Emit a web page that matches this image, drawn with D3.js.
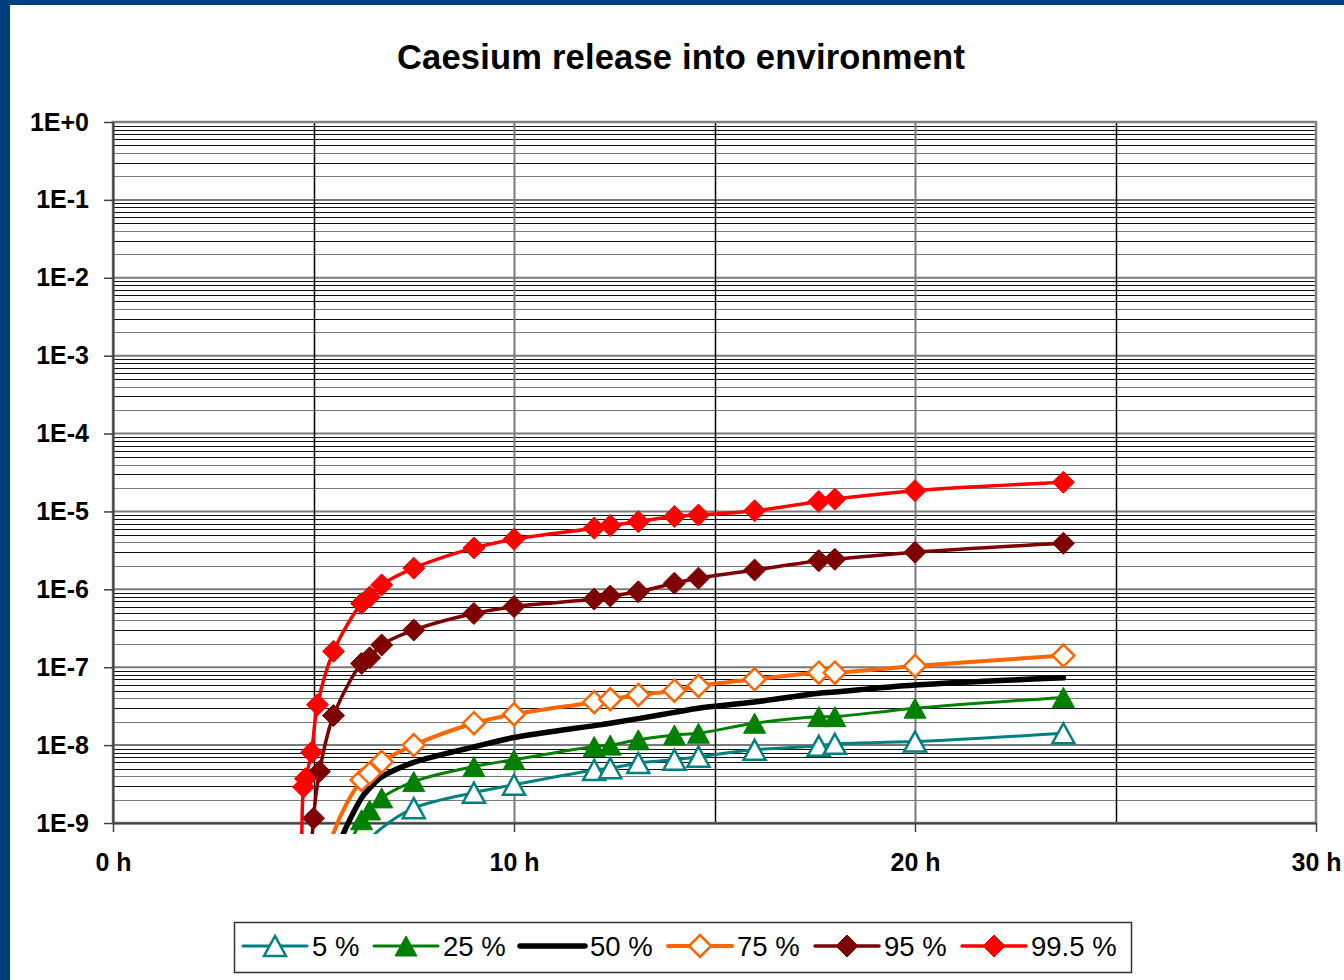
<!DOCTYPE html>
<html>
<head>
<meta charset="utf-8">
<script src="https://cdn.jsdelivr.net/npm/d3@7"></script>
<style>
  html, body { margin: 0; padding: 0; background: #fff; }
  svg { display: block; }
  text { font-family: "Liberation Sans", Arial, sans-serif; }
</style>
</head>
<body>
<svg id="chart" width="1344" height="980"></svg>
<script>
// ---------- data ----------
const titleText = "Caesium release into environment";
const seriesNames = ["5 %", "25 %", "50 %", "75 %", "95 %", "99.5 %"];
const xTickValues = [0, 10, 20, 30];
const xTickLabels = ["0 h", "10 h", "20 h", "30 h"];
const yTickValues = [1, 1e-1, 1e-2, 1e-3, 1e-4, 1e-5, 1e-6, 1e-7, 1e-8, 1e-9];
const yTickLabels = ["1E+0", "1E-1", "1E-2", "1E-3", "1E-4", "1E-5", "1E-6", "1E-7", "1E-8", "1E-9"];

const p5Times  = [5.5, 6.2, 6.4, 6.7, 7.5, 9, 10, 12, 12.4, 13.1, 14, 14.6, 16, 17.6, 18, 20, 23.7];
const p5Values = [1e-11, 3e-10, 6e-10, 8.6e-10, 1.55e-9, 2.45e-9, 3.1e-9, 4.8e-9, 5.05e-9, 5.9e-9, 6.5e-9, 7.1e-9, 8.7e-9, 9.8e-9, 1.04e-8, 1.11e-8, 1.42e-8];

const p25Times  = [4.8, 5.5, 6.2, 6.4, 6.7, 7.5, 9, 10, 12, 12.4, 13.1, 14, 14.6, 16, 17.6, 18, 20, 23.7];
const p25Values = [1e-11, 1.5e-10, 1.1e-9, 1.47e-9, 2.1e-9, 3.4e-9, 5.3e-9, 6.5e-9, 9.6e-9, 1.0e-8, 1.17e-8, 1.35e-8, 1.42e-8, 1.91e-8, 2.32e-8, 2.32e-8, 2.98e-8, 4.1e-8];

const p50Times  = [4.8, 5.5, 6.2, 6.4, 6.7, 7.5, 9, 10, 12, 12.4, 13.1, 14, 14.6, 16, 17.6, 18, 20, 23.7];
const p50Values = [1e-11, 3.5e-10, 2.1e-9, 2.8e-9, 3.9e-9, 6.0e-9, 9.5e-9, 1.25e-8, 1.78e-8, 1.91e-8, 2.19e-8, 2.63e-8, 2.97e-8, 3.57e-8, 4.63e-8, 4.8e-8, 5.9e-8, 7.3e-8];

const p75Times  = [4.8, 5.5, 6.2, 6.4, 6.7, 7.5, 9, 10, 12, 12.4, 13.1, 14, 14.6, 16, 17.6, 18, 20, 23.7];
const p75Values = [1e-11, 7.5e-10, 3.57e-9, 4.35e-9, 6.1e-9, 1.0e-8, 1.91e-8, 2.49e-8, 3.56e-8, 3.88e-8, 4.41e-8, 5.0e-8, 5.75e-8, 7.0e-8, 8.5e-8, 8.5e-8, 1.04e-7, 1.41e-7];

const p95Times  = [4.8, 5.0, 5.15, 5.5, 6.2, 6.4, 6.7, 7.5, 9, 10, 12, 12.4, 13.1, 14, 14.6, 16, 17.6, 18, 20, 23.7];
const p95Values = [1e-11, 1.15e-9, 4.6e-9, 2.4e-8, 1.12e-7, 1.32e-7, 1.93e-7, 3.0e-7, 4.9e-7, 6.0e-7, 7.5e-7, 8.2e-7, 9.3e-7, 1.2e-6, 1.39e-6, 1.77e-6, 2.33e-6, 2.43e-6, 2.99e-6, 3.9e-6];

const p995Times  = [4.72, 4.75, 4.8, 4.95, 5.1, 5.5, 6.2, 6.4, 6.7, 7.5, 9, 10, 12, 12.4, 13.1, 14, 14.6, 16, 17.6, 18, 20, 23.7];
const p995Values = [1e-12, 2.9e-9, 3.7e-9, 8.1e-9, 3.3e-8, 1.6e-7, 6.6e-7, 8.0e-7, 1.14e-6, 1.87e-6, 3.4e-6, 4.4e-6, 6.1e-6, 6.6e-6, 7.4e-6, 8.6e-6, 9.0e-6, 1.02e-5, 1.34e-5, 1.44e-5, 1.85e-5, 2.37e-5];

// ---------- styles ----------
const seriesStyle = [
  { color: "#008080", width: 3,   marker: "triangle", filled: false },
  { color: "#008000", width: 3,   marker: "triangle", filled: true  },
  { color: "#000000", width: 5.5, marker: null,       filled: true  },
  { color: "#FF6600", width: 4,   marker: "diamond",  filled: false },
  { color: "#7F0000", width: 3.5, marker: "diamond",  filled: true  },
  { color: "#FF0000", width: 3.5, marker: "diamond",  filled: true  }
];
const seriesTimes = [p5Times, p25Times, p50Times, p75Times, p95Times, p995Times];
const seriesValues = [p5Values, p25Values, p50Values, p75Values, p95Values, p995Values];

// ---------- layout ----------
const svg = d3.select("#chart");
const pLeft = 113, pRight = 1316, pTop = 122, pBottom = 823;

svg.append("rect").attr("x", 0).attr("y", 0).attr("width", 1344).attr("height", 980).attr("fill", "#fff");
svg.append("rect").attr("x", 0).attr("y", 0).attr("width", 10).attr("height", 980).attr("fill", "#023e7d");
svg.append("rect").attr("x", 0).attr("y", 0).attr("width", 1344).attr("height", 5).attr("fill", "#023e7d");

const x = d3.scaleLinear().domain([0, 30]).range([pLeft, pRight]);
const y = d3.scaleLog().domain([1e-9, 1]).range([pBottom, pTop]);

svg.append("text").attr("x", 681).attr("y", 69).attr("text-anchor", "middle")
  .attr("font-size", 34.5).attr("font-weight", "bold").attr("letter-spacing", 0.2)
  .attr("fill", "#000").text(titleText);

// grid: minor horizontal
const grid = svg.append("g");
const minorVals = [];
for (let e = -9; e <= -1; e++) for (let m = 2; m <= 9; m++) minorVals.push(m * Math.pow(10, e));
grid.selectAll("line.hmin").data(minorVals).join("line")
  .attr("x1", pLeft).attr("x2", pRight)
  .attr("y1", d => Math.round(y(d)) + 0.5).attr("y2", d => Math.round(y(d)) + 0.5)
  .attr("stroke", (d, i) => (i % 8 === 0 || i % 8 === 2) ? "#7a7a7a" : "#111").attr("stroke-width", 1.2);
grid.selectAll("line.hmaj").data(yTickValues.slice(1, 9)).join("line")
  .attr("x1", pLeft).attr("x2", pRight)
  .attr("y1", d => y(d)).attr("y2", d => y(d))
  .attr("stroke", "#7a7a7a").attr("stroke-width", 2);
// vertical grid
const vGrid = [5, 10, 15, 20, 25];
grid.selectAll("line.v").data(vGrid).join("line")
  .attr("x1", d => Math.round(x(d)) + 0.5).attr("x2", d => Math.round(x(d)) + 0.5)
  .attr("y1", pTop).attr("y2", pBottom)
  .attr("stroke", d => d % 10 === 0 ? "#7a7a7a" : "#000")
  .attr("stroke-width", d => d % 10 === 0 ? 2 : 1.5);

// plot border
svg.append("rect").attr("x", pLeft).attr("y", pTop).attr("width", pRight - pLeft).attr("height", pBottom - pTop)
  .attr("fill", "none").attr("stroke", "#808080").attr("stroke-width", 2.5);

// axes
const yAxis = d3.axisLeft(y).tickValues(yTickValues)
  .tickFormat((d, i) => yTickLabels[i]).tickSize(9).tickSizeOuter(0).tickPadding(15);
const gy = svg.append("g").attr("transform", `translate(${pLeft},0)`).call(yAxis);
gy.select(".domain").attr("stroke", "#404040").attr("stroke-width", 2);
gy.selectAll(".tick line").attr("stroke", "#404040").attr("stroke-width", 1.5);
gy.selectAll(".tick text").attr("font-size", 25).attr("font-weight", "bold").attr("fill", "#000")
  .attr("font-family", "'Liberation Sans', Arial, sans-serif");

const xAxis = d3.axisBottom(x).tickValues(xTickValues)
  .tickFormat((d, i) => xTickLabels[i]).tickSize(9).tickSizeOuter(0).tickPadding(21);
const gx = svg.append("g").attr("transform", `translate(0,${pBottom})`).call(xAxis);
gx.select(".domain").attr("stroke", "#404040").attr("stroke-width", 2);
gx.selectAll(".tick line").attr("stroke", "#404040").attr("stroke-width", 1.5);
gx.selectAll(".tick text").attr("font-size", 25).attr("font-weight", "bold").attr("fill", "#000")
  .attr("font-family", "'Liberation Sans', Arial, sans-serif");

// clip for lines
svg.append("defs").append("clipPath").attr("id", "plotclip")
  .append("rect").attr("x", pLeft).attr("y", pTop).attr("width", pRight - pLeft).attr("height", pBottom - pTop + 11);

const line = d3.line().x(d => x(d[0])).y(d => y(d[1])).curve(d3.curveCatmullRom.alpha(0.5));

function markerPath(type, cx, cy) {
  if (type === "diamond") {
    const r = 11;
    return `M${cx},${cy - r}L${cx + r},${cy}L${cx},${cy + r}L${cx - r},${cy}Z`;
  }
  const w = 11, h = 10;
  return `M${cx},${cy - h}L${cx + w},${cy + h}L${cx - w},${cy + h}Z`;
}

const plotG = svg.append("g");
seriesNames.forEach((name, i) => {
  const st = seriesStyle[i];
  const pts = seriesTimes[i].map((t, j) => [t, seriesValues[i][j]]);
  plotG.append("path").datum(pts).attr("d", line).attr("fill", "none")
    .attr("stroke", st.color).attr("stroke-width", st.width)
    .attr("stroke-linejoin", "round").attr("stroke-linecap", "round")
    .attr("clip-path", "url(#plotclip)");
});
seriesNames.forEach((name, i) => {
  const st = seriesStyle[i];
  if (!st.marker) return;
  const pts = seriesTimes[i].map((t, j) => [t, seriesValues[i][j]]).filter(p => p[1] >= 1e-9);
  plotG.selectAll(null).data(pts).join("path")
    .attr("d", p => markerPath(st.marker, x(p[0]), y(p[1])))
    .attr("fill", st.filled ? st.color : "#fff")
    .attr("stroke", st.color).attr("stroke-width", st.filled ? 1 : 2.5);
});

// legend
const lg = svg.append("g");
lg.append("rect").attr("x", 234.5).attr("y", 922.5).attr("width", 897).attr("height", 50)
  .attr("fill", "#fff").attr("stroke", "#333").attr("stroke-width", 1.5);
const legendX = [243, 374, 520, 668, 815, 962];
const legendLineEnd = [307, 438, 585, 732, 879, 1026];
const ly = 946;
seriesNames.forEach((name, i) => {
  const st = seriesStyle[i];
  const g = lg.append("g");
  g.append("line").attr("x1", legendX[i]).attr("x2", legendLineEnd[i]).attr("y1", ly).attr("y2", ly)
    .attr("stroke", st.color).attr("stroke-width", st.width).attr("stroke-linecap", "round");
  if (st.marker) {
    g.append("path").attr("d", markerPath(st.marker, (legendX[i] + legendLineEnd[i]) / 2, ly))
      .attr("fill", st.filled ? st.color : "#fff")
      .attr("stroke", st.color).attr("stroke-width", st.filled ? 1 : 2.5);
  }
  g.append("text").attr("x", legendLineEnd[i] + 5).attr("y", ly + 10)
    .attr("font-size", 27.5).attr("fill", "#000").text(name);
});
</script>
</body>
</html>
